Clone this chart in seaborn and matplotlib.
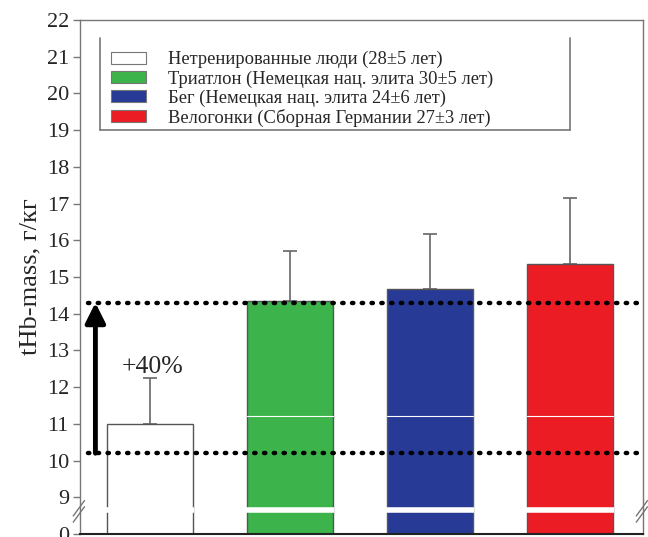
import matplotlib
matplotlib.use("Agg")
import matplotlib.pyplot as plt
import seaborn as sns
import numpy as np
from matplotlib.patches import Patch
from matplotlib.lines import Line2D

# ---- data ----
categories = ["Нетренированные люди (28±5 лет)",
              "Триатлон (Немецкая нац. элита 30±5 лет)",
              "Бег (Немецкая нац. элита 24±6 лет)",
              "Велогонки (Сборная Германии 27±3 лет)"]
means = [11.0, 14.35, 14.68, 15.35]
sd_upper = [1.25, 1.35, 1.48, 1.8]
colors = ["#ffffff", "#3cb44b", "#263a96", "#ec1c24"]
ref_low = 10.2
ref_high = 14.3
annot = "+40%"
tick_vals = [8, 9, 10, 11, 12, 13, 14, 15, 16, 17, 18, 19, 20, 21, 22]
tick_labels = ["0", "9", "10", "11", "12", "13", "14", "15", "16", "17", "18", "19", "20", "21", "22"]

sns.set_style("white")
plt.rcParams["font.family"] = ["Liberation Serif", "DejaVu Serif"]

fig = plt.figure(figsize=(6.48, 5.37), dpi=100)
ax = fig.add_axes([80/648, 1-534/537, (643-80)/648, (534-20)/537])

sns.barplot(x=categories, y=means, hue=categories, palette=colors, width=0.614,
            saturation=1, edgecolor="#555555", linewidth=1.0, legend=False,
            ax=ax, zorder=2)

x = np.arange(len(categories))
ax.errorbar(x, means, yerr=[np.zeros(len(means)), sd_upper], fmt="none",
            ecolor="#666666", elinewidth=1.2, capsize=5, capthick=1.2, zorder=1)

# white separating lines inside bars
for i, (xi, c) in enumerate(zip(x, colors)):
    if i > 0:
        ax.plot([xi-0.307, xi+0.307], [11.22, 11.22], color="white", lw=0.8, zorder=3)
    ax.plot([xi-0.315, xi+0.315], [8.65, 8.65], color="white", lw=4, zorder=3,
            solid_capstyle="butt")

# reference dotted lines
for yv in (ref_low, ref_high):
    ax.axhline(yv, xmin=0.015, color="black", lw=3.2, linestyle=(0, (0.3, 1.9)),
               dash_capstyle="round", zorder=4)

# arrow
ax.annotate("", xy=(-0.39, ref_high), xytext=(-0.39, ref_low),
            arrowprops=dict(arrowstyle="-|>,head_width=0.6,head_length=1.2",
                            color="black", lw=3.5, shrinkA=0, shrinkB=0), zorder=5)
ax.text(0.02, 12.55, annot, ha="center", va="center", fontsize=18.5)

ax.set_xlim(-0.5, 3.52)
ax.set_ylim(8, 22)
ax.set_yticks(tick_vals)
ax.set_yticklabels(tick_labels, fontsize=16)
ax.set_xticks([])
ax.set_xlabel("")
ax.set_ylabel("tHb-mass, г/кг", fontsize=19, labelpad=4)
ax.tick_params(axis="y", direction="out", length=5, width=1, color="#777777",
               left=True, pad=3)
for s in ("left", "top", "right"):
    ax.spines[s].set_color("#777777")
    ax.spines[s].set_linewidth(1.0)
ax.spines["bottom"].set_color("#222222")
ax.spines["bottom"].set_linewidth(1.5)

# axis break marks
for xa in (0.0, 1.0):
    for dy in (-0.012, 0.0):
        ax.plot([xa-0.012, xa+0.008], [0.035+dy, 0.065+dy], transform=ax.transAxes,
                color="#777777", lw=1.0, clip_on=False, zorder=6)

handles = [Patch(facecolor=c, edgecolor="#777777", linewidth=0.8) for c in colors]
leg = ax.legend(handles, categories, loc="upper left",
                bbox_to_anchor=(100/648, 1-40/537), bbox_transform=fig.transFigure,
                fontsize=13.3, frameon=False,
                handlelength=1.9, handleheight=0.6, handletextpad=1.2,
                labelspacing=0.1, borderpad=0.6, borderaxespad=0)

# legend frame without top edge
lx0, lx1, ly0, ly1 = 100/648, 570/648, 1-38/537, 1-130/537
for xs, ys in (([lx0, lx0], [ly0, ly1]), ([lx0, lx1], [ly1, ly1]), ([lx1, lx1], [ly1, ly0])):
    fig.add_artist(Line2D(xs, ys, color="#777777", lw=1.2, transform=fig.transFigure))

fig.savefig("out.png", dpi=100)
